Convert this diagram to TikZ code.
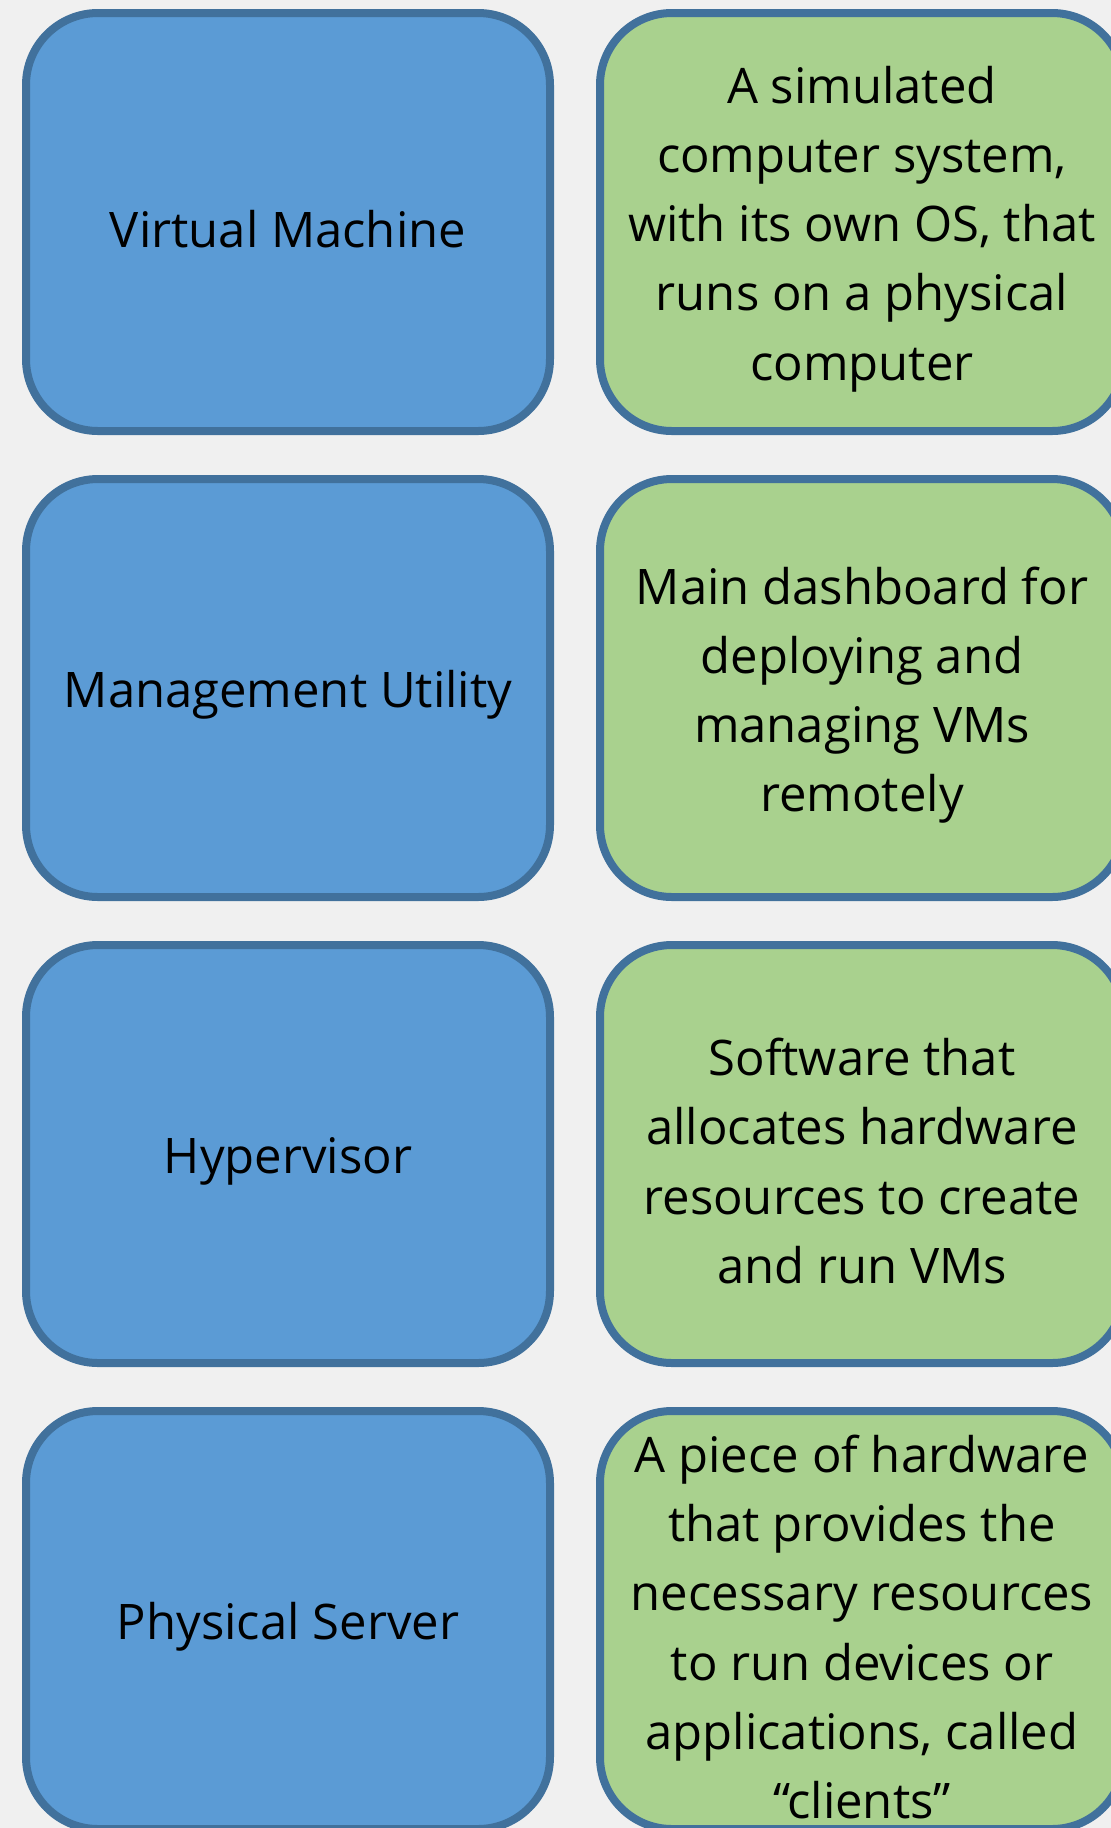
\documentclass[tikz,border=0pt]{standalone}
\usepackage{fontspec}
\setmainfont{Open Sans}
\definecolor{bgc}{RGB}{240,240,240}
\definecolor{bordc}{RGB}{65,113,156}
\definecolor{bluef}{RGB}{91,155,213}
\definecolor{greenf}{RGB}{169,209,142}
\begin{document}
\begin{tikzpicture}[x=0.5pt,y=-0.5pt,
  card/.style={draw=bordc, line width=4pt, rounded corners=36pt,
    minimum width=262pt, minimum height=209pt, inner sep=0pt},
  txt/.style={align=center, text=black, yshift=-3.5pt,
    font=\fontsize{24.5}{34.6}\selectfont},
  term/.style={card, fill=bluef},
  defn/.style={card, fill=greenf}]
\clip (0,0) rectangle (1111,1828);
\fill[bgc] (0,0) rectangle (1111,1828);
\node[term, label={[txt]center:Virtual Machine}] (vm) at (288,222) {};
\node[defn, label={[txt]center:{A simulated\\computer system,\\with its own OS, that\\runs on a physical\\computer}}] (vmd) at (862,222) {};
\node[term, label={[txt]center:Management Utility}] (mu) at (288,688) {};
\node[defn, label={[txt]center:{Main dashboard for\\deploying and\\managing VMs\\remotely}}] (mud) at (862,688) {};
\node[term, label={[txt]center:Hypervisor}] (hv) at (288,1154) {};
\node[defn, label={[txt]center:{Software that\\allocates hardware\\resources to create\\and run VMs}}] (hvd) at (862,1154) {};
\node[term, label={[txt]center:Physical Server}] (ps) at (288,1620) {};
\node[defn, label={[txt]center:{A piece of hardware\\that provides the\\necessary resources\\to run devices or\\applications, called\\“clients”}}] (psd) at (862,1620) {};
\end{tikzpicture}
\end{document}
